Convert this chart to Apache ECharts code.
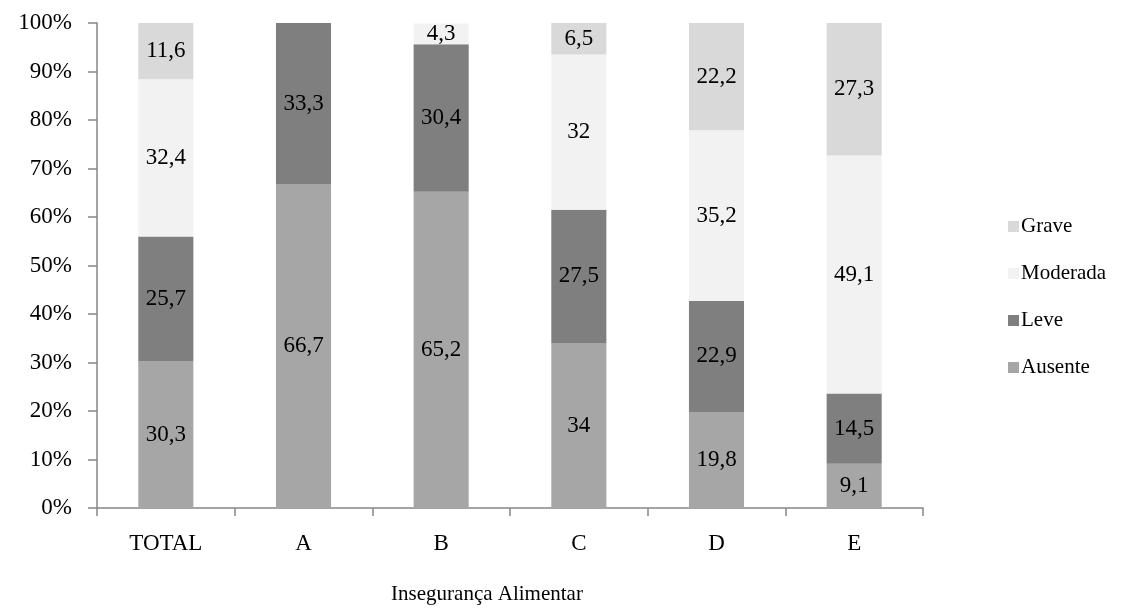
<!DOCTYPE html>
<html>
<head>
<meta charset="utf-8">
<script src="https://cdn.jsdelivr.net/npm/echarts@6/dist/echarts.min.js"></script>
<style>
  html, body { margin: 0; padding: 0; background: #fff; }
  #chart { width: 1128px; height: 609px; }
</style>
</head>
<body>
<div id="chart"></div>
<script>
  const categories = ["TOTAL", "A", "B", "C", "D", "E"];
  const ausente = [30.3, 66.7, 65.2, 34, 19.8, 9.1];
  const leve = [25.7, 33.3, 30.4, 27.5, 22.9, 14.5];
  const moderada = [32.4, null, 4.3, 32, 35.2, 49.1];
  const grave = [11.6, null, null, 6.5, 22.2, 27.3];
  const yTicks = [0, 10, 20, 30, 40, 50, 60, 70, 80, 90, 100];

  const font = "'Liberation Serif', 'DejaVu Serif', serif";
  const myChart = echarts.init(document.getElementById("chart"));

  const mkSeries = (name, data, color) => ({
    name,
    type: "bar",
    stack: "total",
    barWidth: "40%",
    data,
    itemStyle: { color },
    label: {
      show: true,
      position: "inside",
      color: "#000",
      fontSize: 23,
      fontFamily: font,
      formatter: (p) => (p.value == null ? "" : String(p.value).replace(".", ",")),
    },
  });

  const option = {
    animation: false,
    title: {
      text: "Insegurança Alimentar",
      left: 487,
      top: 584,
      textAlign: "center",
      padding: 0,
      textStyle: { fontSize: 21, fontWeight: "normal", fontFamily: font, color: "#000" },
    },
    grid: { left: 97, right: 205, top: 23, bottom: 101 },
    legend: {
      orient: "vertical",
      left: 1003,
      top: 211,
      itemWidth: 11,
      itemHeight: 11,
      itemGap: 26,
      icon: "rect",
      data: ["Grave", "Moderada", "Leve", "Ausente"],
      textStyle: { fontSize: 21, fontFamily: font, color: "#000", padding: [0, 0, 0, -3] },
    },
    xAxis: {
      type: "category",
      data: categories,
      axisLine: { lineStyle: { color: "#868686", width: 1.5 } },
      axisTick: { show: true, length: 8, inside: false, lineStyle: { color: "#868686", width: 1.5 } },
      axisLabel: { fontSize: 23, fontFamily: font, color: "#000", margin: 24 },
    },
    yAxis: {
      type: "value",
      min: yTicks[0],
      max: yTicks[yTicks.length - 1],
      interval: 10,
      splitLine: { show: false },
      axisLine: { show: true, lineStyle: { color: "#868686", width: 1.5 } },
      axisTick: { show: true, length: 9, lineStyle: { color: "#868686", width: 1.5 } },
      axisLabel: { fontSize: 23, fontFamily: font, color: "#000", margin: 25, formatter: "{value}%" },
    },
    series: [
      mkSeries("Ausente", ausente, "#a6a6a6"),
      mkSeries("Leve", leve, "#7f7f7f"),
      mkSeries("Moderada", moderada, "#f2f2f2"),
      mkSeries("Grave", grave, "#d9d9d9"),
    ],
  };

  myChart.setOption(option);
</script>
</body>
</html>
